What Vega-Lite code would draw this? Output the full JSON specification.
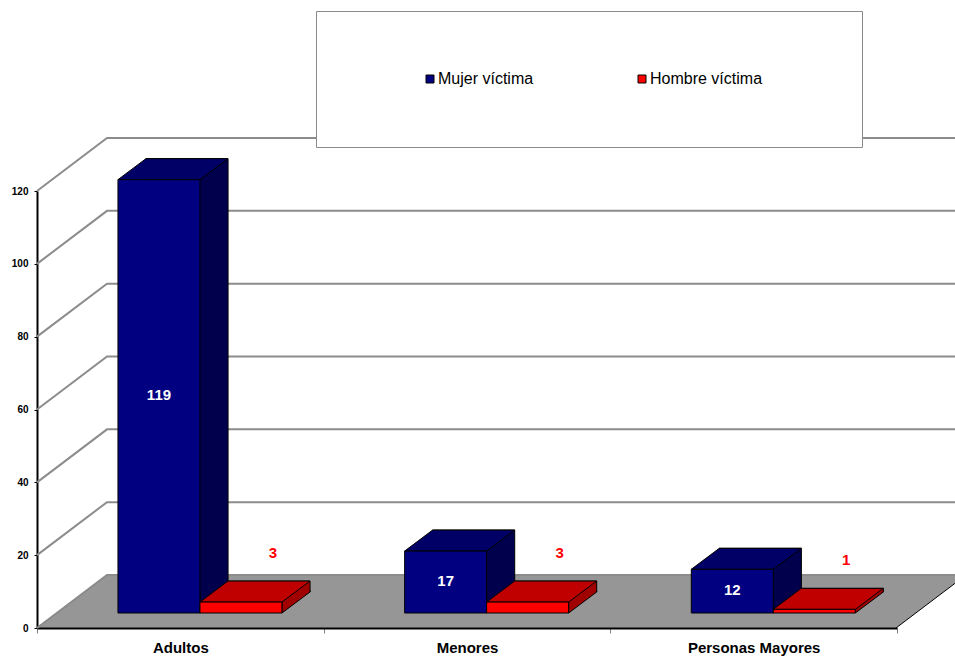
{
  "$schema": "https://vega.github.io/schema/vega-lite/v6.json",
  "width": 860,
  "height": 437,
  "autosize": {"type": "none"},
  "padding": {"left": 37, "top": 191, "right": 58, "bottom": 29},
  "background": "white",
  "config": {
    "view": {"stroke": null},
    "font": "Liberation Sans",
    "axisX": {
      "labelAngle": 0, "domainColor": "#000000", "domainWidth": 2,
      "tickBand": "extent", "tickColor": "#808080", "tickSize": 5, "tickWidth": 1,
      "labelFont": "Liberation Sans", "labelFontSize": 15, "labelFontWeight": "bold",
      "labelColor": "#000000", "labelPadding": 7, "grid": false
    },
    "axisY": {
      "tickCount": 6, "grid": false,
      "domainColor": "#000000", "domainWidth": 2, "tickColor": "#000000",
      "tickSize": 3, "tickWidth": 1, "labelFont": "Liberation Sans",
      "labelFontSize": 10, "labelFontWeight": "bold", "labelColor": "#000000",
      "labelPadding": 6
    }
  },
  "datasets": {
    "victimas": [
      {"categoria": "Adultos", "serie": "Mujer víctima", "valor": 119},
      {"categoria": "Adultos", "serie": "Hombre víctima", "valor": 3},
      {"categoria": "Menores", "serie": "Mujer víctima", "valor": 17},
      {"categoria": "Menores", "serie": "Hombre víctima", "valor": 3},
      {"categoria": "Personas Mayores", "serie": "Mujer víctima", "valor": 12},
      {"categoria": "Personas Mayores", "serie": "Hombre víctima", "valor": 1}
    ],
    "niveles": [
      {"nivel": 0}, {"nivel": 20}, {"nivel": 40}, {"nivel": 60},
      {"nivel": 80}, {"nivel": 100}, {"nivel": 120}
    ]
  },
  "layer": [
    {
      "data": {"values": [{"nivel": 0}]},
      "mark": {"type": "point", "shape": "M0,0 L859,0 L929,-53 L70,-53 Z", "size": 4, "filled": true, "fill": "#969696", "stroke": "#000000", "strokeWidth": 1, "opacity": 1},
      "encoding": {
        "x": {"datum": "Adultos", "type": "nominal", "bandPosition": 0, "title": null},
        "y": {"field": "nivel", "type": "quantitative", "title": null}
      }
    },
    {
      "data": {"name": "niveles"},
      "mark": {"type": "point", "shape": "M0,0 L70,-53 L930,-53", "size": 4, "filled": false, "stroke": "#8c8c8c", "strokeWidth": 2, "opacity": 1},
      "encoding": {
        "x": {"datum": "Adultos", "type": "nominal", "bandPosition": 0, "title": null},
        "y": {"field": "nivel", "type": "quantitative", "title": null}
      }
    },
    {
      "data": {"name": "victimas"},
      "encoding": {
        "x": {
          "field": "categoria", "type": "nominal", "title": null,
          "sort": ["Adultos", "Menores", "Personas Mayores"],
          "scale": {"paddingInner": 0, "paddingOuter": 0}
        },
        "y": {
          "field": "valor", "type": "quantitative", "title": null,
          "scale": {"domain": [0, 120], "nice": false}
        }
      },
      "resolve": {"scale": {"xOffset": "independent"}},
      "layer": [
        {
          "mark": {"type": "bar", "stroke": "#000000", "strokeWidth": 1, "yOffset": -36},
          "encoding": {
            "xOffset": {"field": "serie", "type": "nominal", "scale": {"type": "band", "domain": ["Mujer víctima", "Hombre víctima"], "paddingInner": 0, "paddingOuter": 0.748, "align": 0.889}},
            "fill": {"condition": {"test": "datum.serie === 'Mujer víctima'", "value": "#00004d"}, "value": "#a00000"}
          }
        },
        {
          "mark": {"type": "point", "shape": "M41,-22.5 L41,0 L69,-21 L69,-22.5", "size": 4, "filled": true, "stroke": "#000000", "strokeWidth": 1, "opacity": 1, "yOffset": -15},
          "encoding": {
            "xOffset": {"field": "serie", "type": "nominal", "scale": {"type": "band", "domain": ["Mujer víctima", "Hombre víctima"], "paddingInner": 0, "paddingOuter": 0.748, "align": 0.66}},
            "y": {"datum": 0, "type": "quantitative", "title": null},
            "fill": {"condition": {"test": "datum.serie === 'Mujer víctima'", "value": "#00004d"}, "value": "#a00000"}
          }
        },
        {
          "mark": {"type": "point", "shape": "M-41,0 L41,0 L69,-21 L-13,-21 Z", "size": 4, "filled": true, "stroke": "#000000", "strokeWidth": 1, "opacity": 1, "yOffset": -15},
          "encoding": {
            "xOffset": {"field": "serie", "type": "nominal", "scale": {"type": "band", "domain": ["Mujer víctima", "Hombre víctima"], "paddingInner": 0, "paddingOuter": 0.748, "align": 0.66}},
            "fill": {"condition": {"test": "datum.serie === 'Mujer víctima'", "value": "#000066"}, "value": "#c00000"}
          }
        },
        {
          "mark": {"type": "bar", "stroke": "#000000", "strokeWidth": 1, "yOffset": -15},
          "encoding": {
            "xOffset": {"field": "serie", "type": "nominal", "scale": {"type": "band", "domain": ["Mujer víctima", "Hombre víctima"], "paddingInner": 0, "paddingOuter": 0.748, "align": 0.66}},
            "color": {
              "field": "serie", "type": "nominal",
              "scale": {"domain": ["Mujer víctima", "Hombre víctima"], "range": ["#000080", "#ff0000"]},
              "legend": {
                "orient": "none", "legendX": 279, "legendY": -180, "direction": "horizontal",
                "title": " ", "titleOrient": "right", "titlePadding": 40, "titleFontSize": 11,
                "padding": 60, "strokeColor": "#8a8a8a", "fillColor": "#ffffff",
                "symbolType": "square", "symbolSize": 64, "symbolStrokeColor": "#000000", "symbolStrokeWidth": 1,
                "labelFont": "Liberation Sans", "labelFontSize": 16, "labelColor": "#000000",
                "labelOffset": 0, "columnPadding": 54, "symbolOffset": 46
              }
            }
          }
        },
        {
          "transform": [
            {"filter": "datum.serie === 'Mujer víctima'"},
            {"calculate": "datum.valor / 2", "as": "mitad"}
          ],
          "mark": {"type": "text", "color": "#ffffff", "font": "Liberation Sans", "fontSize": 15, "fontWeight": "bold", "baseline": "middle", "align": "center", "yOffset": -16},
          "encoding": {
            "xOffset": {"field": "serie", "type": "nominal", "scale": {"type": "band", "domain": ["Mujer víctima", "Hombre víctima"], "paddingInner": 0, "paddingOuter": 0.748, "align": 0.66}},
            "y": {"field": "mitad", "type": "quantitative", "title": null},
            "text": {"field": "valor", "type": "quantitative"}
          }
        },
        {
          "transform": [{"filter": "datum.serie === 'Hombre víctima'"}],
          "mark": {"type": "text", "color": "#ff0000", "font": "Liberation Sans", "fontSize": 15, "fontWeight": "bold", "baseline": "middle", "align": "center", "dx": 32, "yOffset": -64},
          "encoding": {
            "xOffset": {"field": "serie", "type": "nominal", "scale": {"type": "band", "domain": ["Mujer víctima", "Hombre víctima"], "paddingInner": 0, "paddingOuter": 0.748, "align": 0.66}},
            "text": {"field": "valor", "type": "quantitative"}
          }
        }
      ]
    }
  ]
}
